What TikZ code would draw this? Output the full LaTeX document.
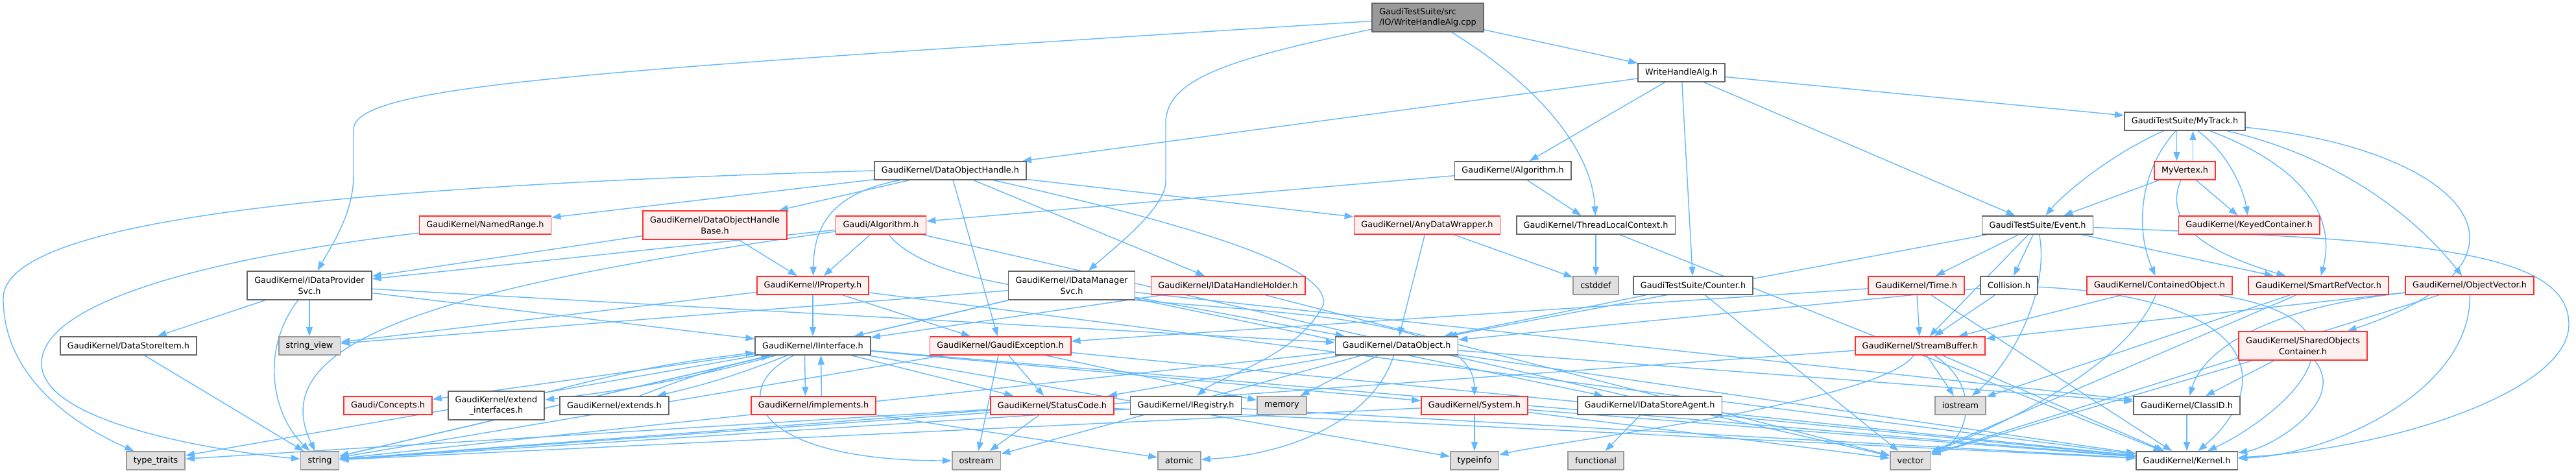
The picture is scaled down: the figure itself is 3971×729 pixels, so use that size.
\documentclass[tikz,border=0pt]{standalone}
\usepackage{fontspec}
\setmainfont{DejaVu Sans}
\usetikzlibrary{arrows.meta}
\definecolor{edgeblue}{HTML}{63B8FF}
\definecolor{boxgrey}{HTML}{666666}
\definecolor{sysgrey}{HTML}{999999}
\definecolor{sysfill}{HTML}{E0E0E0}
\definecolor{truncfill}{HTML}{FFF0F0}
\definecolor{truncred}{HTML}{FF3030}
\definecolor{rootfill}{HTML}{999999}
\pgfdeclarelayer{background}
\pgfsetlayers{background,main}
\tikzset{
  file/.style={draw=boxgrey, fill=white, line width=1pt, inner xsep=0.22cm,
    inner ysep=0pt, minimum height=0.56cm, align=center,
    font=\fontsize{7.3}{9.5}\selectfont},
  twoline/.style={minimum height=0.88cm},
  trunc/.style={file, draw=truncred, fill=truncfill},
  sysfile/.style={file, draw=sysgrey, fill=sysfill},
  rootfile/.style={file, fill=rootfill, align=left},
  dep/.style={draw=edgeblue, line width=0.8pt, -{Triangle[length=0.28cm,width=0.2cm]}}
}

\begin{document}
\begin{tikzpicture}[x=0.02cm,y=-0.02cm]
  \useasboundingbox (0,0) rectangle (3971,729);
  % top ranks
  \node[rootfile,twoline] (root) at (2201,27) {GaudiTestSuite/src\\/IO/WriteHandleAlg.cpp};
  \node[file] (wha) at (2592,112) {WriteHandleAlg.h};
  \node[file] (mytrack) at (3368,187) {GaudiTestSuite/MyTrack.h};
  \node[file] (dohandle) at (1465,263) {GaudiKernel/DataObjectHandle.h};
  \node[file] (gkalg) at (2332,263) {GaudiKernel/Algorithm.h};
  \node[trunc] (myvertex) at (3368,263) {MyVertex.h};
  \node[trunc] (namedrange) at (748,347) {GaudiKernel/NamedRange.h};
  \node[trunc,twoline] (dohbase) at (1102,347) {GaudiKernel/DataObjectHandle\\Base.h};
  \node[trunc] (galg) at (1358,347) {Gaudi/Algorithm.h};
  \node[trunc] (anydw) at (2200,347) {GaudiKernel/AnyDataWrapper.h};
  \node[file] (tlc) at (2460,347) {GaudiKernel/ThreadLocalContext.h};
  \node[file] (event) at (3141,347) {GaudiTestSuite/Event.h};
  \node[trunc] (keyed) at (3467,347) {GaudiKernel/KeyedContainer.h};
  % middle ranks
  \node[file,twoline] (idps) at (477,440) {GaudiKernel/IDataProvider\\Svc.h};
  \node[trunc] (iprop) at (1253,440) {GaudiKernel/IProperty.h};
  \node[file,twoline] (idms) at (1652,440) {GaudiKernel/IDataManager\\Svc.h};
  \node[trunc] (idhh) at (1893,440) {GaudiKernel/IDataHandleHolder.h};
  \node[sysfile] (cstddef) at (2460,440) {cstddef};
  \node[file] (counter) at (2610,440) {GaudiTestSuite/Counter.h};
  \node[trunc] (time) at (2954,440) {GaudiKernel/Time.h};
  \node[file] (collision) at (3097,440) {Collision.h};
  \node[trunc] (contobj) at (3329,440) {GaudiKernel/ContainedObject.h};
  \node[trunc] (srv) at (3574,440) {GaudiKernel/SmartRefVector.h};
  \node[trunc] (objvec) at (3807,440) {GaudiKernel/ObjectVector.h};
  \node[file] (dsitem) at (198,533) {GaudiKernel/DataStoreItem.h};
  \node[sysfile] (strview) at (477,533) {string\_view};
  \node[file] (iint) at (1253,533) {GaudiKernel/IInterface.h};
  \node[trunc] (gexc) at (1542,533) {GaudiKernel/GaudiException.h};
  \node[file] (dobj) at (2153,533) {GaudiKernel/DataObject.h};
  \node[trunc] (sbuf) at (2960,533) {GaudiKernel/StreamBuffer.h};
  \node[trunc,twoline] (soc) at (3550,533) {GaudiKernel/SharedObjects\\Container.h};
  \node[trunc] (concepts) at (598,625) {Gaudi/Concepts.h};
  \node[file,twoline] (extif) at (765,625) {GaudiKernel/extend\\\_interfaces.h};
  \node[file] (extends) at (947,625) {GaudiKernel/extends.h};
  \node[trunc] (impl) at (1254,625) {GaudiKernel/implements.h};
  \node[trunc] (sc) at (1622,625) {GaudiKernel/StatusCode.h};
  \node[file] (ireg) at (1828,625) {GaudiKernel/IRegistry.h};
  \node[sysfile] (memory) at (1976,625) {memory};
  \node[trunc] (system) at (2273,625) {GaudiKernel/System.h};
  \node[file] (idsa) at (2543,625) {GaudiKernel/IDataStoreAgent.h};
  \node[sysfile] (iostream) at (3022,625) {iostream};
  \node[file] (classid) at (3371,625) {GaudiKernel/ClassID.h};
  % bottom rank
  \node[sysfile] (typetraits) at (240,710) {type\_traits};
  \node[sysfile] (string) at (493,710) {string};
  \node[sysfile] (ostream) at (1505,710) {ostream};
  \node[sysfile] (atomic) at (1818,710) {atomic};
  \node[sysfile] (typeinfo) at (2273,710) {typeinfo};
  \node[sysfile] (functional) at (2460,710) {functional};
  \node[sysfile] (vector) at (2945,710) {vector};
  \node[file] (kernel) at (3371,710) {GaudiKernel/Kernel.h};

  \begin{pgfonlayer}{background}
  % root file
  \draw[dep] (root) -- (wha);
  \draw[dep] (root) .. controls (900,110) and (545,130) .. (545,200) -- (545,270) .. controls (545,330) and (510,380) .. (idps);
  \draw[dep] (root) .. controls (1900,90) and (1797,120) .. (1797,190) -- (1797,280) .. controls (1797,320) and (1720,380) .. (idms);
  \draw[dep] (root) .. controls (2400,150) and (2455,250) .. (tlc);
  % WriteHandleAlg.h
  \draw[dep] (wha) -- (dohandle);
  \draw[dep] (wha) -- (gkalg);
  \draw[dep] (wha) -- (counter);
  \draw[dep] (wha) -- (event);
  \draw[dep] (wha) -- (mytrack);
  % MyTrack.h and MyVertex.h
  \draw[dep] (mytrack) .. controls (3250,240) and (3180,300) .. (event);
  \draw[dep] ([xshift=-0.25cm]mytrack.south) -- ([xshift=-0.25cm]myvertex.north);
  \draw[dep] ([xshift=0.25cm]myvertex.north) -- ([xshift=0.25cm]mytrack.south);
  \draw[dep] (mytrack) .. controls (3440,240) and (3460,300) .. (keyed);
  \draw[dep] (mytrack) .. controls (3300,260) and (3290,350) .. (contobj);
  \draw[dep] (mytrack) .. controls (3560,260) and (3600,340) .. (srv);
  \draw[dep] (mytrack) .. controls (3600,240) and (3720,330) .. (objvec);
  \draw[dep] (mytrack) .. controls (3800,230) and (3950,400) .. (soc);
  \draw[dep] (myvertex) -- (event);
  \draw[dep] (myvertex) -- (keyed);
  \draw[dep] (myvertex) .. controls (3340,330) and (3370,380) .. (srv);
  % GaudiKernel/Algorithm.h and friends
  \draw[dep] (gkalg) -- (galg);
  \draw[dep] (gkalg) -- (tlc);
  \draw[dep] (tlc) -- (cstddef);
  \draw[dep] (tlc) -- (kernel);
  \draw[dep] (anydw) -- (dobj);
  \draw[dep] (anydw) -- (cstddef);
  % DataObjectHandle.h
  \draw[dep] (dohandle.west) .. controls (600,285) and (5,330) .. (5,460) .. controls (5,600) and (150,670) .. (typetraits);
  \draw[dep] (dohandle) -- (namedrange);
  \draw[dep] (dohandle) -- (dohbase);
  \draw[dep] (dohandle) .. controls (1270,300) and (1255,360) .. (iprop);
  \draw[dep] (dohandle) -- (gexc);
  \draw[dep] (dohandle) -- (idhh);
  \draw[dep] (dohandle) -- (anydw);
  \draw[dep] (dohandle) .. controls (1900,360) and (2050,420) .. (2040,470) .. controls (2000,550) and (1880,580) .. (ireg);
  \draw[dep] (namedrange) .. controls (300,400) and (64,470) .. (64,560) .. controls (64,660) and (380,700) .. (string);
  \draw[dep] (dohbase) -- (idps);
  \draw[dep] (dohbase) -- (iprop);
  % Gaudi/Algorithm.h
  \draw[dep] (galg) -- (idps);
  \draw[dep] (galg) .. controls (700,440) and (400,520) .. (string);
  \draw[dep] (galg) -- (iprop);
  \draw[dep] (galg) .. controls (1500,520) and (2270,420) .. (system.north);
  \draw[dep] (galg) -- (vector);
  % interfaces
  \draw[dep] (iprop) -- (iint);
  \draw[dep] (iprop) -- (gexc);
  \draw[dep] (iprop) -- (strview);
  \draw[dep] (iprop) -- (kernel);
  \draw[dep] (idps) -- (dsitem);
  \draw[dep] (idps) -- (strview);
  \draw[dep] (idps) .. controls (400,540) and (420,640) .. (string);
  \draw[dep] (idps) -- (dobj);
  \draw[dep] (idps) -- (iint);
  \draw[dep] (dsitem) -- (string);
  \draw[dep] (idms) -- (strview);
  \draw[dep] (idms) -- (string);
  \draw[dep] (idms) -- (iint);
  \draw[dep] (idms) -- (dobj);
  \draw[dep] (idms) -- (idsa);
  \draw[dep] (idms) -- (classid);
  \draw[dep] (idhh) -- (iint);
  \draw[dep] (idhh) -- (vector);
  \draw[dep] (gexc) -- (sc);
  \draw[dep] (gexc) -- (ostream);
  \draw[dep] (gexc) -- (memory);
  \draw[dep] (gexc) -- (string);
  \draw[dep] (gexc) -- (kernel);
  \draw[dep] (sc) -- (string);
  \draw[dep] (sc) -- (ostream);
  \draw[dep] (sc) -- (kernel);
  \draw[dep] (sc) -- (typetraits);
  \draw[dep] (ireg) -- (string);
  \draw[dep] (ireg) -- (kernel);
  % IInterface.h
  \draw[dep] (iint) -- (concepts);
  \draw[dep] (iint) to[bend left=4] (extif);
  \draw[dep] (extif) to[bend left=4] (iint);
  \draw[dep] (iint) to[bend left=4] (extends);
  \draw[dep] (extends) to[bend left=4] (iint);
  \draw[dep] ([xshift=-0.25cm]iint.south) -- ([xshift=-0.25cm]impl.north);
  \draw[dep] ([xshift=0.25cm]impl.north) -- ([xshift=0.25cm]iint.south);
  \draw[dep] (iint) -- (sc);
  \draw[dep] (iint) -- (system);
  \draw[dep] (iint) .. controls (1120,600) and (1160,710) .. (ostream.west);
  \draw[dep] (iint) -- (typetraits);
  \draw[dep] (iint) -- (string);
  \draw[dep] (iint) -- (typeinfo);
  \draw[dep] (iint) -- (kernel);
  \draw[dep] (impl) -- (atomic);
  % DataObject.h
  \draw[dep] (dobj) -- (string);
  \draw[dep] (dobj) -- (sc);
  \draw[dep] (dobj) -- (memory);
  \draw[dep] (dobj) -- (ostream);
  \draw[dep] (dobj) .. controls (2120,640) and (2000,700) .. (atomic);
  \draw[dep] (dobj) -- (classid);
  \draw[dep] (dobj) -- (kernel);
  % StreamBuffer.h and System.h
  \draw[dep] (sbuf) -- (string);
  \draw[dep] (sbuf) .. controls (2900,620) and (2400,680) .. (typeinfo);
  \draw[dep] (sbuf) -- (iostream);
  \draw[dep] (sbuf) -- (kernel);
  \draw[dep] (sbuf) .. controls (3060,600) and (3030,680) .. (vector);
  \draw[dep] (system) -- (typeinfo);
  \draw[dep] (system) -- (string);
  \draw[dep] (system) -- (vector);
  \draw[dep] (system) -- (kernel);
  \draw[dep] (idsa) -- (functional);
  \draw[dep] (idsa) -- (kernel);
  \draw[dep] (counter) -- (dobj);
  \draw[dep] (counter) -- (vector);
  % Event.h
  \draw[dep] (event) -- (dobj);
  \draw[dep] (event) -- (sbuf);
  \draw[dep] (event) -- (time);
  \draw[dep] (event) -- (collision);
  \draw[dep] (event) .. controls (3160,450) and (3100,560) .. (iostream);
  \draw[dep] (event) -- (srv);
  \draw[dep] (event) .. controls (3700,370) and (3960,380) .. (3960,500) .. controls (3960,600) and (3700,690) .. (kernel);
  \draw[dep] (time) -- (sbuf);
  \draw[dep] (time) -- (gexc);
  \draw[dep] (time) -- (kernel);
  \draw[dep] (collision) -- (dobj);
  \draw[dep] (collision) -- (sbuf);
  \draw[dep] (collision) .. controls (3500,460) and (3500,600) .. (kernel);
  % containers
  \draw[dep] (contobj) -- (sbuf);
  \draw[dep] (contobj) .. controls (3280,560) and (3100,650) .. (vector);
  \draw[dep] (contobj) .. controls (3700,500) and (3500,650) .. (kernel);
  \draw[dep] (srv) -- (iostream);
  \draw[dep] (srv) -- (vector);
  \draw[dep] (objvec) -- (sbuf);
  \draw[dep] (objvec) .. controls (3450,480) and (3390,560) .. (classid);
  \draw[dep] (objvec) -- (vector);
  \draw[dep] (objvec) .. controls (3810,600) and (3600,700) .. (kernel);
  \draw[dep] (soc) -- (classid);
  \draw[dep] (soc) .. controls (3620,620) and (3500,690) .. (kernel);
  \draw[dep] (soc) -- (vector);
  \draw[dep] (classid) -- (kernel);
  \end{pgfonlayer}
\end{tikzpicture}
\end{document}
